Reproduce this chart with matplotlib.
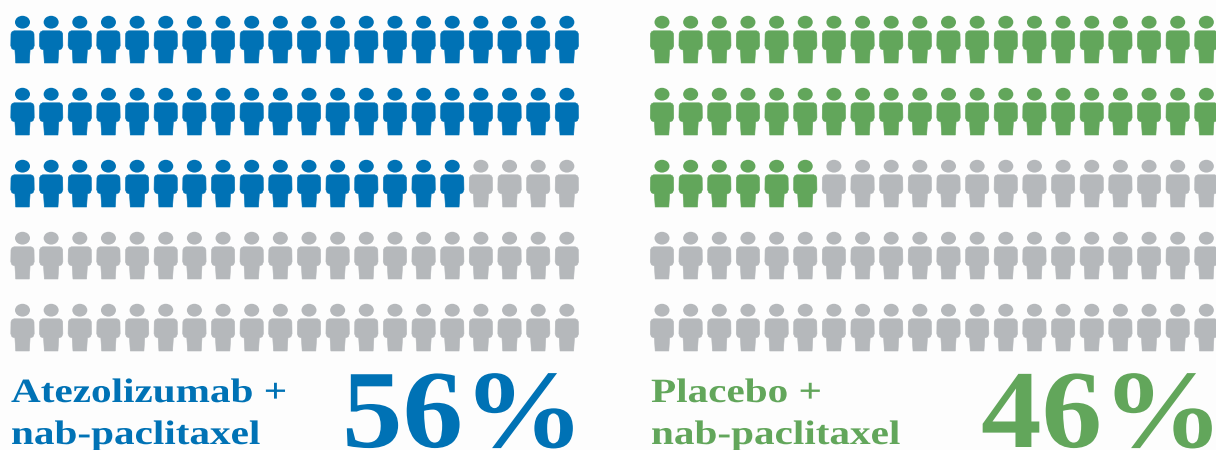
#!/usr/bin/env python3
"""Pictogram of response rates: 100 people per arm, filled by percentage."""
import matplotlib
matplotlib.use("Agg")
import matplotlib.pyplot as plt
from matplotlib.patches import Ellipse, Polygon
from matplotlib.patheffects import AbstractPathEffect
from matplotlib.transforms import Affine2D

arm_names = ["Atezolizumab +\nnab-paclitaxel", "Placebo +\nnab-paclitaxel"]
arm_percent = [56, 46]
arm_colors = ["#0072B5", "#62A65B"]
EMPTY = "#B5B8BB"
BACKGROUND = "#FDFDFD"

N_ROWS = 5
N_COLS = 20
arm_x0 = [22.5, 662.0]
arm_label_x = [11, 651]
arm_pct_x = [342, 981]
COL_STEP = 28.65
ROW_STEP = 72
FIRST_TOP = 16


class StretchX(AbstractPathEffect):
    """The source type is an extended serif, so widen the glyphs about x0."""

    def __init__(self, x0, factor):
        super().__init__()
        self.x0 = x0
        self.factor = factor

    def draw_path(self, renderer, gc, tpath, affine, rgbFace=None):
        stretch = Affine2D().translate(-self.x0, 0).scale(self.factor, 1).translate(self.x0, 0)
        renderer.draw_path(gc, tpath, affine + stretch, rgbFace)


def draw_person(ax, cx, top, color):
    # head
    ax.add_patch(Ellipse((cx, top + 6.2), 15, 12.8, fc=color, ec="none"))
    # shoulders, arms and legs as one outline
    y0 = top + 14.8
    outline = [
        (cx - 8.5, y0), (cx + 8.5, y0), (cx + 10.5, y0 + 1), (cx + 11.5, y0 + 3),
        (cx + 11.7, y0 + 15), (cx + 10.5, y0 + 18), (cx + 8, y0 + 19), (cx + 7.6, y0 + 19),
        (cx + 6.8, y0 + 32.2), (cx - 6.8, y0 + 32.2), (cx - 7.6, y0 + 19), (cx - 8, y0 + 19),
        (cx - 10.5, y0 + 18), (cx - 11.7, y0 + 15), (cx - 11.5, y0 + 3), (cx - 10.5, y0 + 1),
    ]
    ax.add_patch(Polygon(outline, closed=True, fc=color, ec=color, lw=0.4))


def stretched_text(ax, x, y, s, color, size, factor):
    t = ax.text(x, y, s, color=color, family="Liberation Serif", weight="bold",
                fontsize=size, va="baseline")
    x0 = ax.transData.transform((x, y))[0]
    t.set_path_effects([StretchX(x0, factor)])
    return t


fig = plt.figure(figsize=(12.16, 4.5), dpi=100, facecolor=BACKGROUND)
ax = fig.add_axes([0, 0, 1, 1])
ax.set_xlim(0, 1216)
ax.set_ylim(450, 0)
ax.axis("off")

for arm, pct in enumerate(arm_percent):
    for i in range(N_ROWS * N_COLS):
        row, col = divmod(i, N_COLS)
        color = arm_colors[arm] if i < pct else EMPTY
        draw_person(ax, arm_x0[arm] + col * COL_STEP, FIRST_TOP + row * ROW_STEP, color)
    first, second = arm_names[arm].split("\n")
    stretched_text(ax, arm_label_x[arm], 402, first, arm_colors[arm], 24.5, 1.21)
    stretched_text(ax, arm_label_x[arm], 444, second, arm_colors[arm], 24.5, 1.21)
    stretched_text(ax, arm_pct_x[arm], 447, f"{pct}%", arm_colors[arm], 80, 1.09)

fig.savefig("out.png", dpi=100, facecolor=BACKGROUND)
